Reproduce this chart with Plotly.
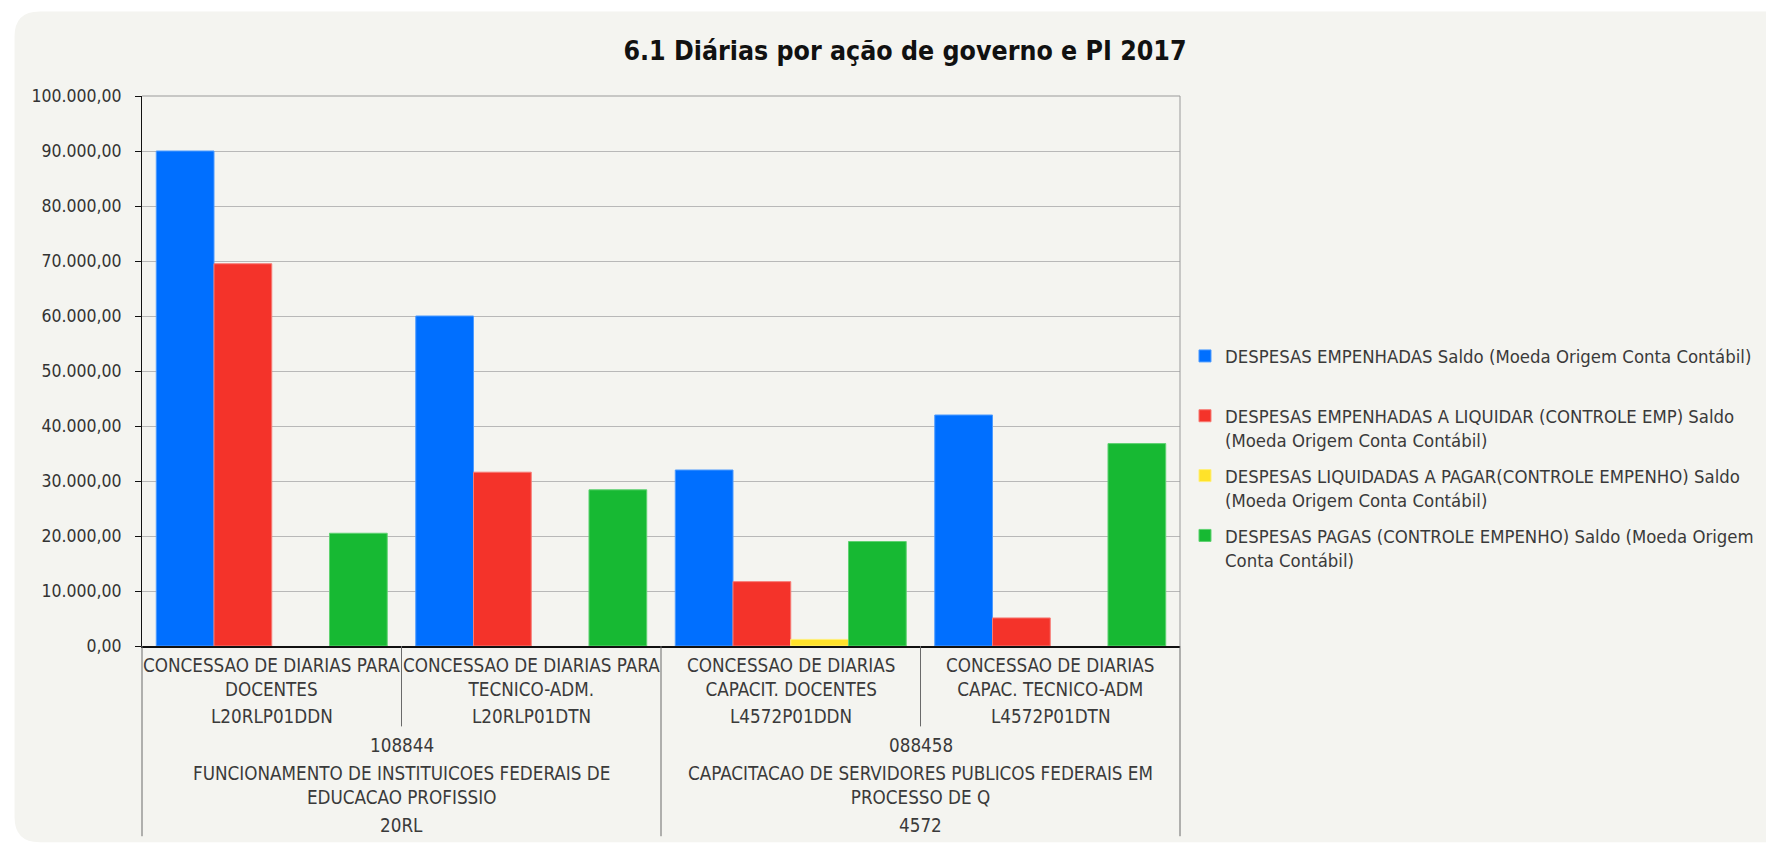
import plotly.graph_objects as go

# ---------------- data ----------------
pi_codes = ["L20RLP01DDN", "L20RLP01DTN", "L4572P01DDN", "L4572P01DTN"]
pi_desc = [
    "CONCESSAO DE DIARIAS PARA<br>DOCENTES",
    "CONCESSAO DE DIARIAS PARA<br>TECNICO-ADM.",
    "CONCESSAO DE DIARIAS<br>CAPACIT. DOCENTES",
    "CONCESSAO DE DIARIAS<br>CAPAC. TECNICO-ADM",
]
ug_codes = ["108844", "088458"]
acao_names = [
    "FUNCIONAMENTO DE INSTITUICOES FEDERAIS DE<br>EDUCACAO PROFISSIO",
    "CAPACITACAO DE SERVIDORES PUBLICOS FEDERAIS EM<br>PROCESSO DE Q",
]
acao_codes = ["20RL", "4572"]
group_members = [[0, 1], [2, 3]]  # category indices belonging to each ação

series_names = [
    "DESPESAS EMPENHADAS Saldo (Moeda Origem Conta Contábil)<br> ",
    "DESPESAS EMPENHADAS A LIQUIDAR (CONTROLE EMP) Saldo<br>(Moeda Origem Conta Contábil)",
    "DESPESAS LIQUIDADAS A PAGAR(CONTROLE EMPENHO) Saldo<br>(Moeda Origem Conta Contábil)",
    "DESPESAS PAGAS (CONTROLE EMPENHO) Saldo (Moeda Origem<br>Conta Contábil)",
]
empenhadas = [90000, 60000, 32000, 42000]
a_liquidar = [69500, 31600, 11700, 5100]
liquidadas_a_pagar = [None, None, 1200, None]
pagas = [20500, 28400, 19000, 36800]
series_values = [empenhadas, a_liquidar, liquidadas_a_pagar, pagas]
series_colors = ["#006fff", "#f4332a", "#ffe22a", "#17b933"]
series_lines = ["#4d9bff", "#f77a74", "#fff07a", "#5fd271"]

y_max = 100000
y_step = 10000

# ---------------- layout geometry ----------------
# the page body has an 8px margin, so positions are given in window pixels
# and shifted by that offset
OFF = 8
W, H = 1774 - OFF, 844 - OFF
PL, PR, PT, PB = 141.5, 1180, 95.7, 646.5       # plot box in window pixels
ML, MR, MT, MB = PL - OFF, W - (PR - OFF), PT - OFF, H - (PB - OFF)
PW = PR - PL
PH = PB - PT
FONT = "Tahoma, 'DejaVu Sans Condensed', 'DejaVu Sans', sans-serif"
TXT = "#3a3a3a"
BG = "#f4f4f0"


def px_x(p):
    return (p - PL) / PW


def px_y(p):
    return (PB - p) / PH


fig = go.Figure()
for i, (name, vals) in enumerate(zip(series_names, series_values)):
    fig.add_trace(go.Bar(
        x=pi_codes, y=vals, name=name, legendgroup=str(i),
        marker=dict(color=series_colors[i], line=dict(color=series_lines[i], width=1)),
    ))

shapes = []
# card background with rounded left corners
r = 25
x0, x1, y0, y1 = px_x(14), px_x(1820), px_y(11), px_y(843)
rx, ry = r / PW, r / PH
path = (f"M{x0 + rx},{y0} L{x1},{y0} L{x1},{y1} L{x0 + rx},{y1} "
        f"Q{x0},{y1} {x0},{y1 + ry} L{x0},{y0 - ry} Q{x0},{y0} {x0 + rx},{y0} Z")
shapes.append(dict(type="path", xref="paper", yref="paper", path=path,
                   fillcolor=BG, line=dict(width=0), layer="below"))
# plot border top / right
shapes.append(dict(type="line", xref="paper", yref="paper", x0=0, x1=1, y0=1, y1=1,
                   line=dict(color="#9a9a9a", width=1)))
shapes.append(dict(type="line", xref="paper", yref="paper", x0=1, x1=1, y0=0, y1=1,
                   line=dict(color="#9a9a9a", width=1)))

# category dividers below the axis
n = len(pi_codes)
deep = px_y(837)
shallow = px_y(727)
group_edges = {0} | {g[-1] + 1 for g in group_members}
for k in range(n + 1):
    yb = deep if k in group_edges else shallow
    shapes.append(dict(type="line", xref="paper", yref="paper", x0=k / n, x1=k / n,
                       y0=0, y1=yb, line=dict(color="#6a6a6a", width=1)))

annotations = []
lab_font = dict(family=FONT, size=18.7, color=TXT)
for i in range(n):
    annotations.append(dict(x=i, y=px_y(678), xref="x", yref="paper", text=pi_desc[i],
                            showarrow=False, font=lab_font, yanchor="middle"))
    annotations.append(dict(x=i, y=px_y(717.5), xref="x", yref="paper", text=pi_codes[i],
                            showarrow=False, font=lab_font, yanchor="middle"))
for g, members in enumerate(group_members):
    cx = sum(members) / len(members)
    annotations.append(dict(x=cx, y=px_y(746.5), xref="x", yref="paper", text=ug_codes[g],
                            showarrow=False, font=lab_font, yanchor="middle"))
    annotations.append(dict(x=cx, y=px_y(786.5), xref="x", yref="paper", text=acao_names[g],
                            showarrow=False, font=lab_font, yanchor="middle"))
    annotations.append(dict(x=cx, y=px_y(826.5), xref="x", yref="paper", text=acao_codes[g],
                            showarrow=False, font=lab_font, yanchor="middle"))

fig.update_layout(
    width=W, height=H,
    margin=dict(l=ML, r=MR, t=MT, b=MB, autoexpand=False),
    paper_bgcolor="white", plot_bgcolor="rgba(0,0,0,0)",
    separators=",.",
    barmode="group", bargap=0.11, bargroupgap=0,
    font=dict(family=FONT, size=18.7, color=TXT),
    title=dict(text="6.1 Diárias por ação de governo e PI 2017",
               x=(905 - OFF) / W, xref="container", xanchor="center",
               y=1 - (51 - OFF) / H, yref="container", yanchor="middle",
               font=dict(family=FONT, size=26.5, color="#111111", weight="bold")),
    xaxis=dict(type="category", range=[-0.5, n - 0.5], showticklabels=False,
               showgrid=False, ticks="", showline=True, linecolor="#111111", linewidth=2,
               zeroline=False, fixedrange=True),
    yaxis=dict(range=[0, y_max], dtick=y_step, tick0=0, tickformat=",.2f",
               showgrid=True, gridcolor="#b8b8b8", gridwidth=1,
               showline=True, linecolor="#111111", linewidth=1,
               ticks="outside", ticklen=6, tickcolor="#111111",
               ticklabelstandoff=10, zeroline=False,
               tickfont=dict(family=FONT, size=17.5, color="#333333")),
    legend=dict(x=px_x(1185), xanchor="left", y=px_y(337.5), yanchor="top",
                bgcolor="rgba(0,0,0,0)", valign="top", traceorder="grouped",
                tracegroupgap=9, itemwidth=30,
                font=dict(family=FONT, size=18.4, color=TXT)),
    shapes=shapes, annotations=annotations,
)

fig.write_html("out.html")
